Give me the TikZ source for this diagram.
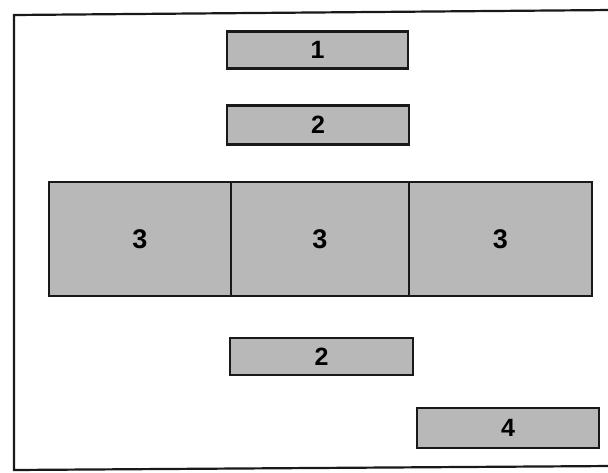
\documentclass[tikz,border=0pt]{standalone}
\usepackage{fontspec}
\setmainfont{Liberation Sans}
\definecolor{boxgray}{RGB}{184,184,184}
\definecolor{inkline}{RGB}{25,25,25}
\begin{document}
\begin{tikzpicture}[x=1pt,y=-1pt,
  bar/.style={draw=inkline,line width=2.2pt,fill=boxgray,inner sep=0pt,outer sep=0pt,
    font=\fontsize{25}{25}\selectfont\bfseries},
  cell/.style={bar,font=\fontsize{27}{27}\selectfont\bfseries},
  frameline/.style={draw=inkline,line width=2.2pt}]
\useasboundingbox (0,0) rectangle (608,472);
% frame (open on the right, as in the scan)
\coordinate (ftl) at (14,15);
\coordinate (ftr) at (612,10);
\coordinate (fbl) at (14,470);
\coordinate (fbr) at (612,466);
\draw[frameline] (ftr) -- (ftl) -- (fbl) -- (fbr);
% bars
\node[bar,minimum width=181pt,minimum height=37pt] (b1) at (317.5,50) {1};
\node[bar,minimum width=182pt,minimum height=39pt] (b2) at (318,125) {2};
\node[cell,minimum width=182pt,minimum height=114pt] (c1) at (140,239) {3};
\node[cell,minimum width=178pt,minimum height=114pt] (c2) at (320,239) {3};
\node[cell,minimum width=183pt,minimum height=114pt] (c3) at (500.5,239) {3};
\node[bar,minimum width=183pt,minimum height=37pt] (b3) at (321.5,356.5) {2};
\node[bar,minimum width=182pt,minimum height=40pt] (b4) at (508,428) {4};
\end{tikzpicture}
\end{document}
